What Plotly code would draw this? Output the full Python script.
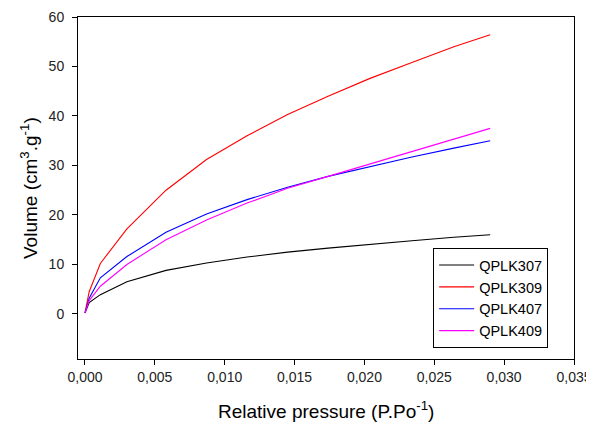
import plotly.graph_objects as go

pressure = [0, 0.0003, 0.0011, 0.0030, 0.0058, 0.0087, 0.0116, 0.0145, 0.0174, 0.0204, 0.0234, 0.0264, 0.0290]
qplk307 = [0.2, 2.3, 3.9, 6.5, 8.8, 10.3, 11.5, 12.5, 13.3, 14.1, 14.8, 15.5, 16.0]
qplk309 = [0.2, 4.5, 10.2, 17.2, 25.0, 31.2, 36.0, 40.3, 44.0, 47.6, 50.8, 54.0, 56.4]
qplk407 = [0.2, 3.2, 7.3, 11.6, 16.5, 20.2, 23.1, 25.6, 27.8, 29.8, 31.7, 33.5, 35.0]
qplk409 = [0.2, 2.7, 5.6, 10.0, 15.0, 19.0, 22.4, 25.4, 27.8, 30.3, 32.9, 35.4, 37.5]

x_ticks = [0, 0.005, 0.01, 0.015, 0.02, 0.025, 0.03, 0.035]
y_ticks = [0, 10, 20, 30, 40, 50, 60]

series = [
    ("QPLK307", qplk307, "#000000"),
    ("QPLK309", qplk309, "#ff0000"),
    ("QPLK407", qplk407, "#0000ff"),
    ("QPLK409", qplk409, "#ff00ff"),
]

fig = go.Figure()
for name, vals, col in series:
    fig.add_trace(go.Scatter(x=pressure, y=vals, mode="lines", name=name,
                             line=dict(color=col, width=1.1)))

font = "Liberation Sans, Arial, sans-serif"
fig.update_layout(
    width=586, height=419,
    margin=dict(l=70, r=20, t=9, b=68, autoexpand=False),
    paper_bgcolor="white", plot_bgcolor="white",
    separators=",.",
    font=dict(family=font, color="#000000", size=14),
    showlegend=True,
    legend=dict(x=0.716, y=0.178, xanchor="left", yanchor="middle",
                bordercolor="#000000", borderwidth=1, bgcolor="white",
                font=dict(size=14.5, family=font), tracegroupgap=0, itemwidth=35),
    xaxis=dict(range=[-0.0005, 0.035], tickvals=x_ticks, automargin=False,
               tickformat=".3f", showline=True, linecolor="#000000", linewidth=1, mirror=True,
               ticks="outside", ticklen=5, tickcolor="#000000", showgrid=False, zeroline=False,
               tickfont=dict(size=14, color="#222222")),
    yaxis=dict(range=[-9.1, 60], tickvals=y_ticks, automargin=False,
               showline=True, linecolor="#000000", linewidth=1, mirror=True,
               ticks="outside", ticklen=5, tickcolor="#000000", showgrid=False, zeroline=False,
               ticklabelstandoff=5,
               tickfont=dict(size=14, color="#222222")),
    annotations=[
        dict(text="Relative pressure (P.Po<sup>-1</sup>)", xref="paper", yref="paper",
             x=0.5, y=0, xanchor="center", yanchor="middle", yshift=-51,
             showarrow=False, font=dict(size=19, color="#000000")),
        dict(text="Volume (cm<sup>3</sup>.g<sup>-1</sup>)", xref="paper", yref="paper",
             x=0, y=0.5, xanchor="center", yanchor="middle", xshift=-49, textangle=-90,
             showarrow=False, font=dict(size=19, color="#000000")),
    ],
)

fig.write_html("out.html")
